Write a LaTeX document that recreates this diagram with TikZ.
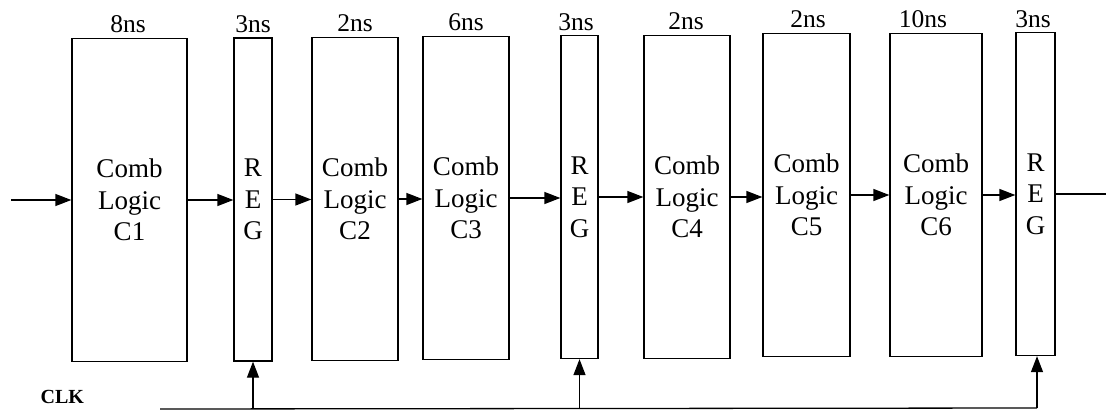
\documentclass[tikz,border=0pt]{standalone}
\usepackage{fontspec}
\setmainfont{Liberation Serif}
\usetikzlibrary{arrows.meta}
\begin{document}
\begin{tikzpicture}[x=1pt,y=-1pt,
  line width=1.3pt,
  comb/.style={draw, minimum height=323pt, inner sep=0pt, font=\fontsize{27}{31.5}\selectfont, align=center},
  reg/.style={comb},
  delay/.style={font=\fontsize{25.5}{28}\selectfont, anchor=base, inner sep=0pt},
  flow/.style={-{Triangle[length=16pt,width=12pt]}},
]
\useasboundingbox (0,0) rectangle (1106,412);

% pipeline stages
\node[comb, minimum width=115pt] (c1) at (129.5,200) {Comb\\Logic\\C1};
\node[reg,  minimum width=38pt]  (r1) at (253,199.5)  {R\\E\\G};
\node[comb, minimum width=86pt]  (c2) at (355,199)    {Comb\\Logic\\C2};
\node[comb, minimum width=86pt]  (c3) at (466,198)    {Comb\\Logic\\C3};
\node[reg,  minimum width=37pt]  (r2) at (579.5,197)  {R\\E\\G};
\node[comb, minimum width=86pt]  (c4) at (687,197)    {Comb\\Logic\\C4};
\node[comb, minimum width=87pt]  (c5) at (806.5,195)  {Comb\\Logic\\C5};
\node[comb, minimum width=92pt]  (c6) at (936,195)    {Comb\\Logic\\C6};
\node[reg,  minimum width=39pt]  (r3) at (1035.5,194) {R\\E\\G};

% delay annotations
\node[delay] (d1) at (128,33) {8ns};
\node[delay] (d2) at (253,33) {3ns};
\node[delay] (d3) at (355,32) {2ns};
\node[delay] (d4) at (466,31) {6ns};
\node[delay] (d5) at (576,31) {3ns};
\node[delay] (d6) at (686,30) {2ns};
\node[delay] (d7) at (808,28) {2ns};
\node[delay] (d8) at (923,28) {10ns};
\node[delay] (d9) at (1033,28) {3ns};

% data path
\coordinate (in) at (11,200);
\coordinate (out) at (1123,194);
\draw[flow] (in) -- (c1.west);
\draw[flow] (c1.east) -- (c1.east -| r1.west);
\draw[flow] (r1.east) -- (r1.east -| c2.west);
\draw[flow] (c2.east) -- (c2.east -| c3.west);
\draw[flow] (c3.east) -- (c3.east -| r2.west);
\draw[flow] (r2.east) -- (r2.east -| c4.west);
\draw[flow] (c4.east) -- (c4.east -| c5.west);
\draw[flow] (c5.east) -- (c5.east -| c6.west);
\draw[flow] (c6.east) -- (c6.east -| r3.west);
\draw[flow] (r3.east) -- (out);

% clock distribution
\node[font=\fontsize{20}{22}\selectfont\bfseries, anchor=base west, inner sep=0pt] (clk) at (40,403) {CLK};
\coordinate (cs) at (160,409);
\coordinate (ce) at (1037,408);
\draw (cs) -- (ce);
\draw[flow] (r1.south |- cs) -- (r1.south);
\draw[flow] (r2.south |- cs) -- (r2.south);
\draw[flow] (ce) -- (ce |- r3.south);
\end{tikzpicture}
\end{document}
